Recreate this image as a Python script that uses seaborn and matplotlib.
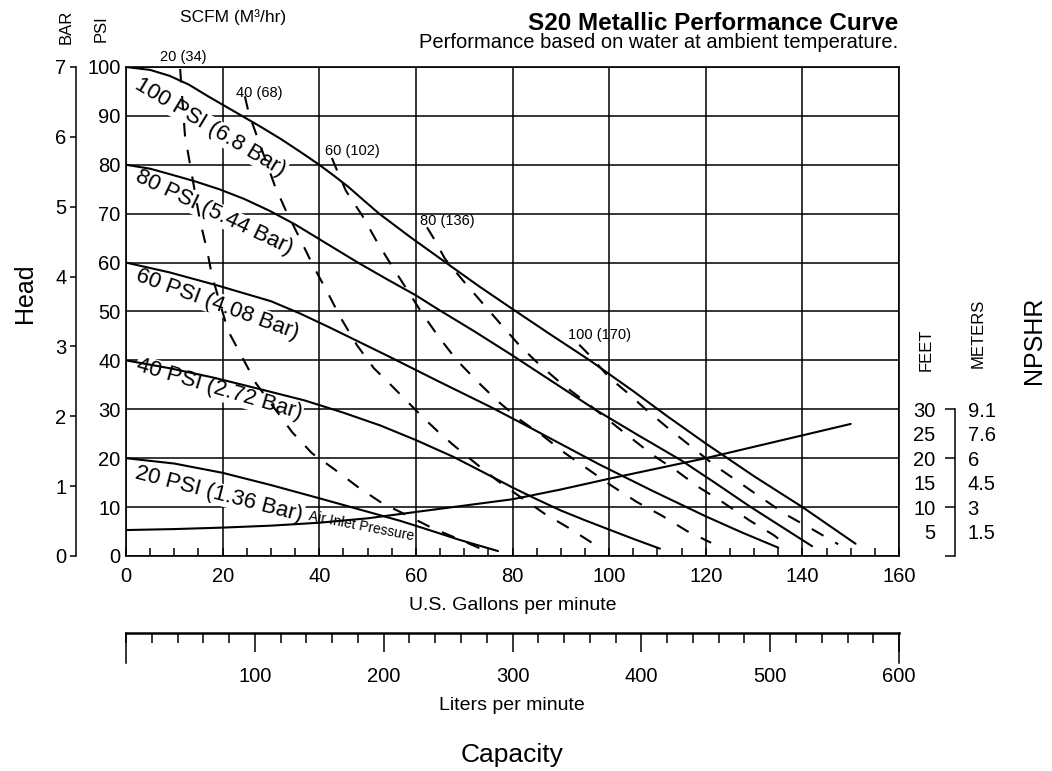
import pandas as pd
import matplotlib.pyplot as plt
import seaborn as sns
from matplotlib.ticker import MultipleLocator

sns.set_style("white")
plt.rcParams['font.family'] = ['Liberation Sans', 'DejaVu Sans']
plt.rcParams['text.color'] = 'black'
plt.rcParams['axes.labelcolor'] = 'black'
plt.rcParams['xtick.color'] = 'black'
plt.rcParams['ytick.color'] = 'black'

# Head (PSI) vs capacity (GPM) for each air inlet pressure
gpm_100psi = [0, 5, 9, 13, 17, 20.5, 24, 28, 32, 36, 40, 43, 46, 49, 52.4, 59, 66.2, 73, 80, 88, 96, 105, 112, 120, 130, 140, 151]
psi_100psi = [100, 99.4, 98.2, 96.4, 94, 92, 90, 87.7, 85.3, 82.7, 80, 77.8, 75.5, 72.9, 70, 65.1, 60, 55.2, 50.5, 45.2, 40, 33.7, 28.6, 23, 16.3, 10, 2.5]
gpm_80psi = [0, 5, 9, 14, 19.3, 24.5, 29.7, 35, 40, 44, 48, 54, 60, 64, 72, 80, 88.5, 97, 106, 115, 122, 129, 135.5, 142]
psi_80psi = [80, 79.2, 78.1, 76.7, 75, 73, 70.6, 67.8, 64.8, 62.4, 60, 56.6, 53.3, 50.8, 46, 41, 35.5, 30, 24.7, 19.5, 14.9, 10.2, 6.1, 2]
gpm_60psi = [0, 9, 19, 30, 36, 42, 48, 54, 64.7, 75.4, 82, 90, 98, 109, 120, 127.5, 135]
psi_60psi = [60, 58, 55.3, 52.1, 49.6, 46.8, 43.9, 41, 35.7, 30.5, 27.1, 22.9, 18.7, 13.3, 8.1, 4.8, 1.7]
gpm_40psi = [0, 9, 18, 27, 37, 45, 52.6, 60, 67.7, 74, 80, 85, 90, 95, 100, 105, 110.5]
psi_40psi = [40, 38.4, 36.5, 34.3, 31.8, 29.3, 26.7, 23.7, 20.3, 17.1, 14, 11.6, 9.3, 7.3, 5.4, 3.5, 1.5]
gpm_20psi = [0, 10, 20, 30, 40, 48, 56.7, 61.5, 69, 77]
psi_20psi = [20, 18.9, 17.0, 14.5, 11.8, 9.6, 7.2, 5.7, 3.3, 1]

# Air consumption lines, SCFM
gpm_20scfm = [11.2, 12.2, 13.3, 15.3, 16.8, 17.8, 21.1, 24.4, 26.9, 34.4, 38.5, 43.3, 48, 53, 58, 63.4, 69.2, 74.1]
psi_20scfm = [99.6, 86, 79.8, 68.6, 62.4, 57.3, 46.1, 40, 35.3, 25.3, 21, 17.6, 14.1, 10.8, 8.4, 5.7, 3.3, 1.2]
gpm_40scfm = [24.6, 25.3, 26.1, 30.8, 33.1, 36, 38.7, 41.6, 44.5, 47.8, 51.3, 54.5, 58, 61.5, 64.5, 67.5, 72.3, 77, 82, 86.7, 91.7, 96.9]
psi_40scfm = [94, 91, 88.6, 75.7, 70.6, 64.9, 59.4, 54.1, 48.6, 43.1, 38.4, 35.3, 31.8, 28.3, 25.5, 22.9, 19, 15.3, 11.8, 8.6, 5.7, 2.4]
gpm_60scfm = [42.6, 43.7, 45.5, 48.9, 51.8, 55.1, 58.4, 61.3, 64.8, 68.5, 72.7, 77, 81.6, 86.1, 90.9, 100.6, 105.8, 111, 116.1, 121.1]
psi_60scfm = [81.4, 78.8, 74.7, 69.6, 64.5, 59.2, 54.1, 49.6, 44.7, 40, 35.7, 31.6, 27.8, 24.7, 21, 14.3, 11, 8.2, 5.1, 2.7]
gpm_80scfm = [62.3, 63.6, 66, 69.6, 73.7, 77.4, 81.4, 85.7, 90.3, 95, 99.6, 104.3, 109.1, 114.1, 118.8, 123.8, 129, 134, 136]
psi_80scfm = [67.2, 65.1, 60.8, 56.5, 51.8, 47.6, 43.1, 39, 35.1, 31.6, 28, 24.3, 20.6, 17.3, 13.9, 10.8, 7.3, 4.3, 2.8]
gpm_100scfm = [93.8, 96, 100, 104, 108, 112.5, 117.2, 122, 126.7, 131.8, 136.7, 141.8, 147.4]
psi_100scfm = [43.2, 41, 36.5, 33.2, 29.6, 25.9, 22.2, 18.4, 15.2, 11.7, 8.4, 5.6, 2.4]

# NPSHR curve (feet)
gpm_npshr = [0, 10, 20, 30, 40, 50, 60, 70, 80, 90, 100, 110, 120, 135, 150]
ft_npshr = [5.3, 5.5, 5.8, 6.2, 6.8, 7.7, 9.0, 10.3, 11.6, 13.6, 15.8, 17.9, 20, 23.5, 27]

# Labels and axis ticks
psi_labels = ["100 PSI (6.8 Bar)", "80 PSI (5.44 Bar)", "60 PSI (4.08 Bar)",
              "40 PSI (2.72 Bar)", "20 PSI (1.36 Bar)"]
scfm_labels = ["20 (34)", "40 (68)", "60 (102)", "80 (136)", "100 (170)"]
bar_ticks = [0, 1, 2, 3, 4, 5, 6, 7]
feet_major = [0, 10, 20, 30]
feet_major_labels = ["", "10", "20", "30"]
feet_minor = [5, 15, 25]
meters_pos = [5, 10, 15, 20, 25, 30]
meters_labels = ["1.5", "3", "4.5", "6", "7.6", "9.1"]
lpm_ticks = [100, 200, 300, 400, 500, 600]


def to_long(curves):
    rows = []
    for name, (xs, ys) in curves.items():
        for x, y in zip(xs, ys):
            rows.append((name, x, y))
    return pd.DataFrame(rows, columns=['curve', 'gpm', 'head'])


df_psi = to_long({
    '100': (gpm_100psi, psi_100psi), '80': (gpm_80psi, psi_80psi),
    '60': (gpm_60psi, psi_60psi), '40': (gpm_40psi, psi_40psi),
    '20': (gpm_20psi, psi_20psi)})
df_scfm = to_long({
    '20': (gpm_20scfm, psi_20scfm), '40': (gpm_40scfm, psi_40scfm),
    '60': (gpm_60scfm, psi_60scfm), '80': (gpm_80scfm, psi_80scfm),
    '100': (gpm_100scfm, psi_100scfm)})

fig = plt.figure(figsize=(10.52, 7.71), dpi=100)
ax = fig.add_axes([0.1198, 0.2789, 0.7348, 0.6342])
ax.set_axisbelow(True)
ax.grid(True, which='major', color='black', lw=1.1)

sns.lineplot(data=df_psi, x='gpm', y='head', units='curve', estimator=None,
             sort=False, color='black', lw=1.5, ax=ax, zorder=3)
sns.lineplot(data=df_scfm, x='gpm', y='head', units='curve', estimator=None,
             sort=False, color='black', lw=1.5, linestyle=(0, (6.5, 6.5)),
             ax=ax, zorder=3)

ax.set_xlim(0, 160)
ax.set_ylim(0, 100)
ax.set_xticks(range(0, 161, 20))
ax.set_yticks(range(0, 101, 10))
ax.xaxis.set_minor_locator(MultipleLocator(5))
ax.tick_params(axis='x', which='both', direction='in', length=6, width=1.1,
               pad=8, labelsize=14.5, bottom=True, top=False)
ax.tick_params(axis='y', which='both', length=0, pad=4, labelsize=14.5)
ax.set_xlabel('U.S. Gallons per minute', fontsize=14, labelpad=8)
ax.set_ylabel('')
for s in ax.spines.values():
    s.set_color('black')
    s.set_linewidth(1.2)

# pressure curve labels
label_spots = [(17.5, 87.6, -31), (18.3, 70.2, -25.5), (19, 51.5, -20),
               (19.3, 34.0, -16.5), (19.3, 12.6, -14.5)]
for txt, (x, y, rot) in zip(psi_labels, label_spots):
    ax.text(x, y, txt, rotation=rot, rotation_mode='anchor', ha='center',
            va='center', fontsize=16, zorder=2,
            bbox=dict(facecolor='white', edgecolor='none', pad=0.5))
ax.text(48.6, 6.1, 'Air Inlet Pressure', rotation=-11, rotation_mode='anchor',
        ha='center', va='center', fontsize=10, zorder=2)

scfm_spots = [(11.8, 102), (27.5, 94.7), (46.8, 82.9), (66.5, 68.6), (98.1, 45.1)]
for txt, (x, y) in zip(scfm_labels, scfm_spots):
    ax.text(x, y, txt, ha='center', va='center', fontsize=10.5, zorder=4)

# BAR scale on the far left
ax_bar = ax.twinx()
ax_bar.set_ylim(0, 7)
ax_bar.yaxis.tick_left()
ax_bar.spines['left'].set_position(('axes', -0.0647))
for side in ['right', 'top', 'bottom']:
    ax_bar.spines[side].set_visible(False)
ax_bar.spines['left'].set_color('black')
ax_bar.spines['left'].set_linewidth(1.1)
ax_bar.set_yticks(bar_ticks)
ax_bar.tick_params(axis='y', direction='out', length=4, width=1.1, pad=3,
                   labelsize=14.5, left=True, right=False)
ax_bar.grid(False)

# NPSHR feet scale on the right
ax_ft = ax.twinx()
sns.lineplot(x=gpm_npshr, y=ft_npshr, color='black', lw=1.5, ax=ax_ft)
ax_ft.set_ylim(0, 100)
ax_ft.set_xlim(0, 160)
ax_ft.yaxis.tick_left()
ax_ft.spines['left'].set_position(('axes', 1.0724))
ax_ft.spines['left'].set_bounds(0, 30)
ax_ft.spines['left'].set_color('black')
ax_ft.spines['left'].set_linewidth(1.1)
for side in ['right', 'top', 'bottom']:
    ax_ft.spines[side].set_visible(False)
ax_ft.set_yticks(feet_major)
ax_ft.set_yticklabels(feet_major_labels)
ax_ft.set_yticks(feet_minor, minor=True)
ax_ft.set_yticklabels([str(v) for v in feet_minor], minor=True)
ax_ft.tick_params(axis='y', which='major', direction='out', length=7, width=1.1,
                  pad=7, labelsize=14.5, left=True, right=False)
ax_ft.tick_params(axis='y', which='minor', length=0, pad=14, labelsize=14.5,
                  left=True, right=False)
ax_ft.set_ylabel('')
ax_ft.grid(False)

# NPSHR meters labels
ax_m = ax.twinx()
ax_m.set_ylim(0, 100)
ax_m.spines['right'].set_position(('axes', 1.0724))
for s in ax_m.spines.values():
    s.set_visible(False)
ax_m.set_yticks(meters_pos)
ax_m.set_yticklabels(meters_labels)
ax_m.tick_params(axis='y', length=0, pad=9, labelsize=14.5, right=True, left=False)
ax_m.grid(False)

# Liters per minute scale
ax_l = fig.add_axes([0.1198, 0.1401, 0.7348, 0.0389])
ax_l.patch.set_visible(False)
ax_l.set_xlim(0, 600)
ax_l.set_ylim(0, 1)
ax_l.set_yticks([])
ax_l.spines['bottom'].set_position(('axes', 1.0))
ax_l.spines['top'].set_visible(False)
ax_l.spines['bottom'].set_linewidth(1.8)
for side in ['left', 'right']:
    ax_l.spines[side].set_linewidth(1.1)
for s in ax_l.spines.values():
    s.set_color('black')
ax_l.set_xticks(lpm_ticks)
ax_l.xaxis.set_minor_locator(MultipleLocator(20))
ax_l.tick_params(axis='x', which='major', direction='out', length=13.5, width=1.1,
                 pad=11, labelsize=14.5, bottom=True)
ax_l.tick_params(axis='x', which='minor', direction='out', length=7, width=1.1,
                 bottom=True)

# Figure texts
fig.text(0.8536, 1 - 30 / 771, 'S20 Metallic Performance Curve', ha='right',
         va='baseline', fontsize=17.5, fontweight='bold')
fig.text(0.8536, 1 - 48 / 771, 'Performance based on water at ambient temperature.',
         ha='right', va='baseline', fontsize=14.5)
fig.text(180 / 1052, 1 - 17 / 771, 'SCFM (M³/hr)', ha='left', va='center', fontsize=12.5)
fig.text(66 / 1052, 1 - 27 / 771, 'BAR', rotation=90, ha='center', va='center', fontsize=12)
fig.text(101 / 1052, 1 - 29 / 771, 'PSI', rotation=90, ha='center', va='center', fontsize=12)
fig.text(25 / 1052, 1 - 293 / 771, 'Head', rotation=90, ha='center', va='center', fontsize=18)
fig.text(926 / 1052, 1 - 350 / 771, 'FEET', rotation=90, ha='center', va='center', fontsize=12)
fig.text(978 / 1052, 1 - 333 / 771, 'METERS', rotation=90, ha='center', va='center', fontsize=12)
fig.text(1034 / 1052, 1 - 340 / 771, 'NPSHR', rotation=90, ha='center', va='center', fontsize=18)
fig.text(512 / 1052, 1 - 705 / 771, 'Liters per minute', ha='center', va='center', fontsize=14)
fig.text(512 / 1052, 1 - 755 / 771, 'Capacity', ha='center', va='center', fontsize=19)

fig.savefig('out.png', dpi=100)
